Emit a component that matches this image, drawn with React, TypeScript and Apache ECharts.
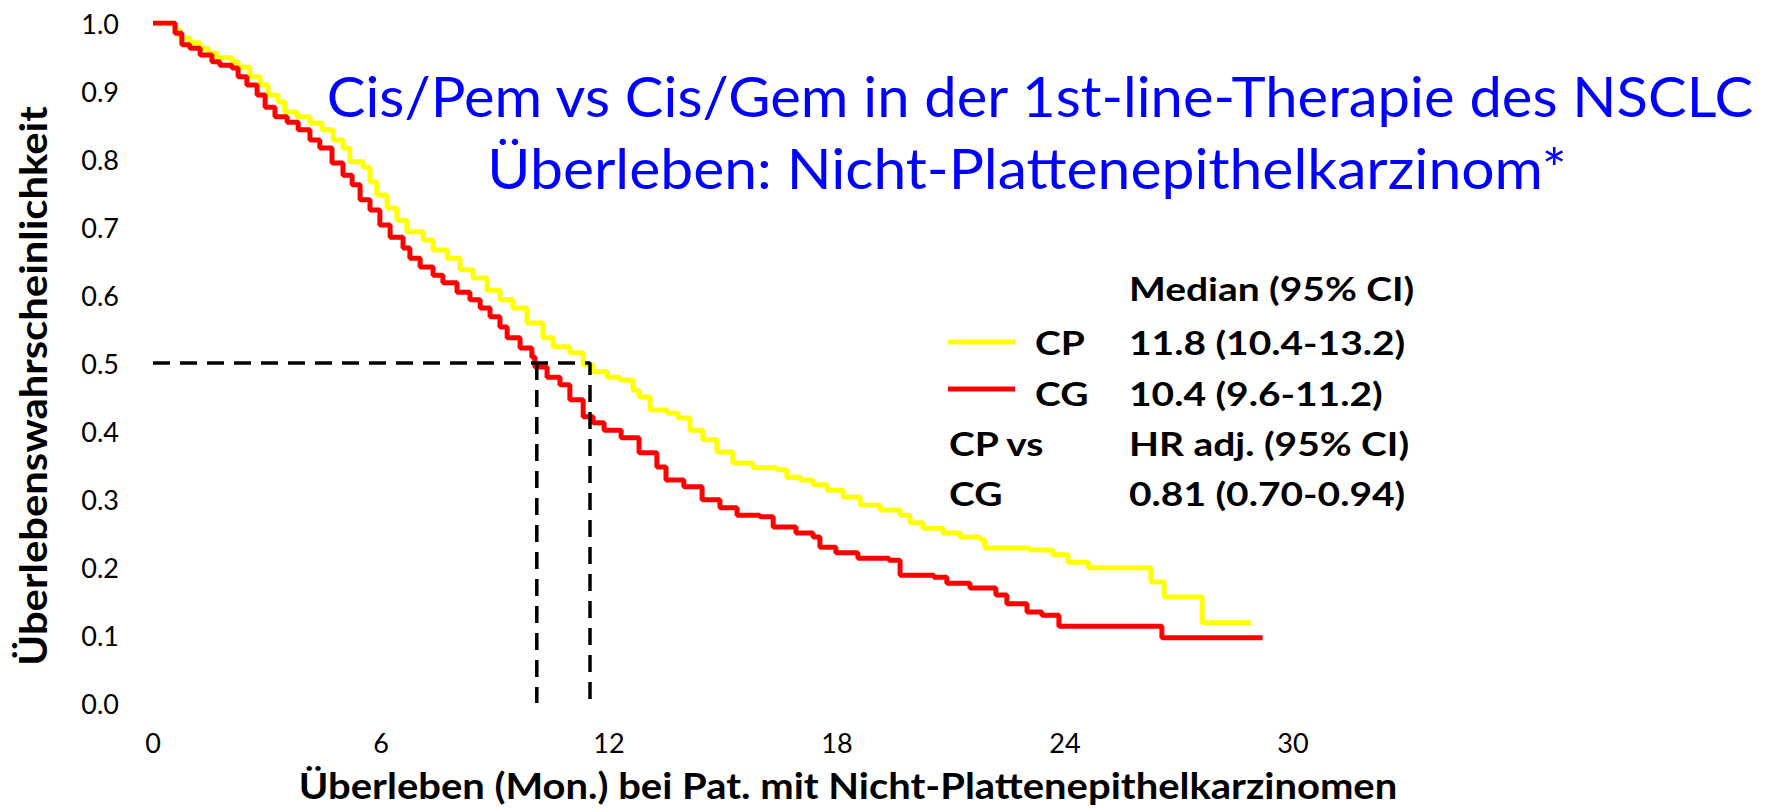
import React, { useEffect, useRef } from "react";
import * as echarts from "echarts";

// ---- data ----
const monthTicks = [0, 6, 12, 18, 24, 30];
const survTicks = [0, 0.1, 0.2, 0.3, 0.4, 0.5, 0.6, 0.7, 0.8, 0.9, 1.0];

const cpTime = [0, 0.58, 0.71, 0.97, 1.24, 1.45, 1.68, 2.08, 2.24, 2.55, 2.82, 3.03, 3.29, 3.47, 3.79, 4.13, 4.45, 4.74, 5.0, 5.18, 5.53, 5.71, 5.89, 6.16, 6.42, 6.68, 7.11, 7.37, 7.74, 8.08, 8.42, 8.79, 9.13, 9.47, 9.84, 10.26, 10.53, 10.97, 11.32, 11.58, 11.95, 12.29, 12.63, 12.79, 13.08, 13.53, 13.82, 14.13, 14.47, 14.84, 15.26, 15.79, 16.42, 16.68, 17.03, 17.37, 17.74, 18.16, 18.61, 19.13, 19.66, 19.92, 20.26, 20.79, 21.24, 21.76, 21.89, 23.08, 23.68, 24.08, 24.61, 26.26, 26.61, 27.61, 28.89];
const cpSurv = [1.0, 0.99, 0.978, 0.971, 0.963, 0.956, 0.949, 0.943, 0.935, 0.921, 0.909, 0.894, 0.884, 0.869, 0.862, 0.853, 0.843, 0.828, 0.816, 0.796, 0.788, 0.766, 0.747, 0.728, 0.71, 0.693, 0.681, 0.666, 0.654, 0.637, 0.625, 0.607, 0.593, 0.581, 0.559, 0.537, 0.524, 0.515, 0.497, 0.487, 0.479, 0.475, 0.46, 0.45, 0.431, 0.426, 0.419, 0.401, 0.387, 0.369, 0.353, 0.346, 0.343, 0.332, 0.328, 0.321, 0.313, 0.303, 0.291, 0.284, 0.276, 0.265, 0.257, 0.25, 0.244, 0.24, 0.228, 0.225, 0.218, 0.207, 0.199, 0.178, 0.156, 0.118, 0.118];

const cgTime = [0, 0.58, 0.76, 0.97, 1.24, 1.55, 1.76, 2.08, 2.24, 2.47, 2.74, 2.95, 3.21, 3.53, 3.82, 4.13, 4.39, 4.71, 5.0, 5.24, 5.45, 5.71, 5.97, 6.24, 6.58, 6.76, 7.03, 7.37, 7.63, 8.0, 8.34, 8.61, 8.87, 9.13, 9.32, 9.66, 9.97, 10.05, 10.37, 10.71, 10.97, 11.32, 11.58, 11.87, 12.32, 12.79, 13.26, 13.5, 13.97, 14.45, 14.92, 15.37, 15.97, 16.32, 16.92, 17.37, 17.55, 17.97, 18.55, 19.37, 19.66, 20.55, 20.89, 21.5, 22.18, 22.47, 23.0, 23.39, 23.84, 26.55, 29.2];
const cgSurv = [1.0, 0.985, 0.968, 0.963, 0.953, 0.943, 0.938, 0.934, 0.921, 0.909, 0.894, 0.876, 0.862, 0.854, 0.843, 0.828, 0.816, 0.794, 0.776, 0.762, 0.74, 0.725, 0.703, 0.685, 0.669, 0.654, 0.641, 0.629, 0.618, 0.604, 0.593, 0.581, 0.568, 0.553, 0.537, 0.522, 0.509, 0.494, 0.479, 0.468, 0.446, 0.421, 0.412, 0.401, 0.39, 0.368, 0.347, 0.328, 0.318, 0.299, 0.287, 0.276, 0.274, 0.259, 0.25, 0.244, 0.229, 0.221, 0.213, 0.21, 0.188, 0.185, 0.176, 0.169, 0.159, 0.146, 0.134, 0.129, 0.113, 0.096, 0.096];

const medianLevel = 0.5;
const medianCG = 10.1;
const medianCP = 11.5;

const seriesNames = ["CP", "CG"];
const seriesColors = ["#FFFF00", "#FF0000"];
const titleLines = [
  "Cis/Pem vs Cis/Gem in der 1st-line-Therapie des NSCLC",
  "Überleben: Nicht-Plattenepithelkarzinom*",
];
const xAxisTitle = "Überleben (Mon.) bei Pat. mit Nicht-Plattenepithelkarzinomen";
const yAxisTitle = "Überlebenswahrscheinlichkeit";
const statsHeader = "Median (95% CI)";
const medianTexts = ["11.8 (10.4-13.2)", "10.4 (9.6-11.2)"];
const hrLeft = ["CP vs", "CG"];
const hrRight = ["HR adj. (95% CI)", "0.81 (0.70-0.94)"];

const FONT = "Lato, 'Open Sans', sans-serif";

function zip(t: number[], s: number[]) {
  return t.map((v, i) => [v, s[i]]);
}

function txt(
  text: string,
  x: number,
  y: number,
  size: number,
  opts: { bold?: boolean; align?: string; fill?: string; scaleX?: number; rotation?: number } = {}
) {
  const align = opts.align || "left";
  return {
    type: "text",
    x,
    y,
    scaleX: opts.scaleX ?? 1,
    rotation: opts.rotation ?? 0,
    z: 100,
    style: {
      text,
      x: 0,
      y: 0,
      fontSize: size,
      fontFamily: FONT,
      fontWeight: opts.bold ? "bold" : "normal",
      fill: opts.fill || "#000",
      align,
      textAlign: align,
      verticalAlign: "middle",
      textVerticalAlign: "middle",
    },
  };
}

export default function App() {
  const ref = useRef<HTMLDivElement>(null);

  useEffect(() => {
    if (!ref.current) return;
    const chart = echarts.init(ref.current, undefined, { renderer: "svg" });

    const legendSize = 33;
    const legendScale = 1.18;
    const graphic: any[] = [
      txt(titleLines[0], 1040, 95, 56, { align: "center", fill: "#0000FF", scaleX: 1.035 }),
      txt(titleLines[1], 1027, 167, 56, { align: "center", fill: "#0000FF", scaleX: 1.05 }),
      txt(xAxisTitle, 848, 785, 36, { align: "center", bold: true, scaleX: 1.11 }),
      txt(yAxisTitle, 33, 386, 38, { align: "center", bold: true, scaleX: 1.1, rotation: Math.PI / 2 }),
      txt(statsHeader, 1129, 288, legendSize, { bold: true, scaleX: legendScale }),
      txt(seriesNames[0], 1035, 342, legendSize, { bold: true, scaleX: legendScale }),
      txt(medianTexts[0], 1129, 342, legendSize, { bold: true, scaleX: legendScale }),
      txt(seriesNames[1], 1035, 393, legendSize, { bold: true, scaleX: legendScale }),
      txt(medianTexts[1], 1129, 393, legendSize, { bold: true, scaleX: legendScale }),
      txt(hrLeft[0], 949, 443, legendSize, { bold: true, scaleX: legendScale }),
      txt(hrRight[0], 1129, 443, legendSize, { bold: true, scaleX: legendScale }),
      txt(hrLeft[1], 949, 493, legendSize, { bold: true, scaleX: legendScale }),
      txt(hrRight[1], 1129, 493, legendSize, { bold: true, scaleX: legendScale }),
      {
        type: "line",
        shape: { x1: 948, y1: 342, x2: 1015, y2: 342 },
        style: { stroke: seriesColors[0], lineWidth: 5 },
      },
      {
        type: "line",
        shape: { x1: 948, y1: 389, x2: 1015, y2: 389 },
        style: { stroke: seriesColors[1], lineWidth: 5 },
      },
    ];

    const dashed = { color: "#000", width: 3.5, type: [17, 10] };

    chart.setOption({
      animation: false,
      backgroundColor: "#ffffff",
      grid: { left: 153, right: 476, top: 23, bottom: 106 },
      xAxis: {
        type: "value",
        min: monthTicks[0],
        max: monthTicks[monthTicks.length - 1],
        interval: monthTicks[1] - monthTicks[0],
        axisLine: { show: false },
        axisTick: { show: false },
        splitLine: { show: false },
        axisLabel: { fontSize: 27, fontFamily: FONT, color: "#000", margin: 26 },
      },
      yAxis: {
        type: "value",
        min: survTicks[0],
        max: survTicks[survTicks.length - 1],
        interval: 0.1,
        axisLine: { show: false },
        axisTick: { show: false },
        splitLine: { show: false },
        axisLabel: {
          fontSize: 27,
          fontFamily: FONT,
          color: "#000",
          margin: 34,
          formatter: (v: number) => v.toFixed(1),
        },
      },
      series: [
        {
          name: seriesNames[0],
          type: "line",
          step: "end",
          symbol: "none",
          data: zip(cpTime, cpSurv),
          lineStyle: { color: seriesColors[0], width: 5 },
          itemStyle: { color: seriesColors[0] },
          z: 2,
        },
        {
          name: seriesNames[1],
          type: "line",
          step: "end",
          symbol: "none",
          data: zip(cgTime, cgSurv),
          lineStyle: { color: seriesColors[1], width: 5 },
          itemStyle: { color: seriesColors[1] },
          z: 3,
        },
        {
          name: "Median CP",
          type: "line",
          symbol: "none",
          data: [
            [0, medianLevel],
            [medianCP, medianLevel],
            [medianCP, 0],
          ],
          lineStyle: dashed,
          z: 4,
        },
        {
          name: "Median CG",
          type: "line",
          symbol: "none",
          data: [
            [medianCG, medianLevel],
            [medianCG, 0],
          ],
          lineStyle: dashed,
          z: 4,
        },
      ],
      graphic,
    });

    return () => chart.dispose();
  }, []);

  return (
    <div
      ref={ref}
      style={{ position: "absolute", left: 0, top: 0, width: 1769, height: 809, background: "#fff" }}
    />
  );
}
